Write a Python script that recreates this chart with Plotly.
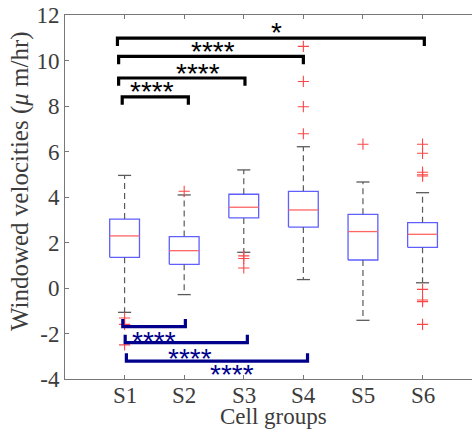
import plotly.graph_objects as go

# ---- data ----
groups = ["S1", "S2", "S3", "S4", "S5", "S6"]
q1 = [1.35, 1.04, 3.08, 2.68, 1.23, 1.79]
median = [2.29, 1.64, 3.55, 3.43, 2.48, 2.36]
q3 = [3.03, 2.26, 4.12, 4.25, 3.24, 2.87]
lower_whisker = [-1.07, -0.29, 1.57, 0.37, -1.42, 0.23]
upper_whisker = [4.95, 4.09, 5.19, 6.21, 4.66, 4.19]
outliers = [
    [-1.32, -1.60, -2.50],
    [4.25],
    [1.41, 1.30, 0.88],
    [6.78, 7.97, 9.08, 10.62],
    [6.32],
    [6.32, 5.92, 5.09, 4.98, 4.92, -0.06, -0.53, -0.60, -1.60],
]
y_tickvals = [-4, -2, 0, 2, 4, 6, 8, 10, 12]
y_ticktext = ["-4", "-2", "0", "2", "4", "6", "8", "10", "12"]

# significance comparisons (group a, group b, label)
upper_pairs = [(1, 2, "****"), (1, 3, "****"), (1, 4, "****"), (1, 6, "*")]
lower_pairs = [(1, 2, "****"), (1, 3, "****"), (1, 4, "****")]

# ---- placement (layout only) ----
upper_levels = [8.40, 9.23, 10.18, 10.98]
upper_left_off = [-0.04, -0.10, -0.10, -0.12]
upper_right_off = [0.07, 0.02, 0.0, 0.03]
upper_text_x = [1.456, 2.237, 2.48, 3.557]
upper_text_y = [8.84, 9.67, 10.6, 11.47]
lower_levels = [-1.70, -2.40, -3.21]
lower_left_off = [-0.03, 0.01, 0.03]
lower_right_off = [0.02, 0.06, 0.07]
lower_text_x = [1.487, 2.09, 2.80]
lower_text_y = [-2.14, -2.87, -3.60]
leg = 0.34
hw = 0.25   # box half width
cw = 0.11   # cap half width

pos = list(range(1, len(groups) + 1))

fig = go.Figure()

# boxes
bx, by = [], []
for p, a, b in zip(pos, q1, q3):
    bx += [p - hw, p + hw, p + hw, p - hw, p - hw, None]
    by += [a, a, b, b, a, None]
fig.add_trace(go.Scatter(x=bx, y=by, mode="lines",
                         line=dict(color="rgb(95,95,255)", width=1.3),
                         hoverinfo="skip", showlegend=False))
# whiskers (dashed)
wx, wy = [], []
for p, a, b, lo, hi in zip(pos, q1, q3, lower_whisker, upper_whisker):
    wx += [p, p, None, p, p, None]
    wy += [b, hi, None, a, lo, None]
fig.add_trace(go.Scatter(x=wx, y=wy, mode="lines",
                         line=dict(color="rgb(90,90,90)", width=1.2, dash="6px,4px"),
                         hoverinfo="skip", showlegend=False))
# caps
cx, cy = [], []
for p, lo, hi in zip(pos, lower_whisker, upper_whisker):
    cx += [p - cw, p + cw, None, p - cw, p + cw, None]
    cy += [hi, hi, None, lo, lo, None]
fig.add_trace(go.Scatter(x=cx, y=cy, mode="lines",
                         line=dict(color="rgb(90,90,90)", width=1.3),
                         hoverinfo="skip", showlegend=False))
# medians
mx, my = [], []
for p, m in zip(pos, median):
    mx += [p - hw, p + hw, None]
    my += [m, m, None]
fig.add_trace(go.Scatter(x=mx, y=my, mode="lines",
                         line=dict(color="rgb(255,100,100)", width=1.3),
                         hoverinfo="skip", showlegend=False))
# outliers
ox, oy = [], []
for p, vals in zip(pos, outliers):
    ox += [p] * len(vals)
    oy += vals
fig.add_trace(go.Scatter(x=ox, y=oy, mode="markers",
                         marker=dict(symbol="cross-thin", size=8,
                                     line=dict(color="rgb(255,70,70)", width=1.1)),
                         hoverinfo="skip", showlegend=False))

# upper (black) brackets
for (a, b, lab), lvl, lo, ro, tx, ty in zip(upper_pairs, upper_levels, upper_left_off,
                                            upper_right_off, upper_text_x, upper_text_y):
    fig.add_trace(go.Scatter(x=[a + lo, a + lo, b + ro, b + ro],
                             y=[lvl - leg, lvl, lvl, lvl - leg], mode="lines",
                             line=dict(color="black", width=3.2),
                             hoverinfo="skip", showlegend=False))
    fig.add_annotation(x=tx, y=ty, text=lab, showarrow=False, xanchor="center",
                       yanchor="middle", yshift=-5, borderpad=0,
                       font=dict(family="Liberation Sans", size=28, color="black"))

# lower (navy) brackets
for (a, b, lab), lvl, lo, ro, tx, ty in zip(lower_pairs, lower_levels, lower_left_off,
                                            lower_right_off, lower_text_x, lower_text_y):
    fig.add_trace(go.Scatter(x=[a + lo, a + lo, b + ro, b + ro],
                             y=[lvl + leg, lvl, lvl, lvl + leg], mode="lines",
                             line=dict(color="rgb(0,0,140)", width=3.2),
                             hoverinfo="skip", showlegend=False))
    fig.add_annotation(x=tx, y=ty, text=lab, showarrow=False, xanchor="center",
                       yanchor="middle", yshift=-5, borderpad=0,
                       font=dict(family="Liberation Sans", size=28, color="rgb(0,0,140)"))

text_color = "rgb(60,60,60)"
axis_font = dict(family="Liberation Serif", size=23, color=text_color)

# x tick labels (placed close to the axis as in the reference)
for p, g in zip(pos, groups):
    fig.add_annotation(xref="x", yref="paper", x=p, y=0, yanchor="top", yshift=-3,
                       text=g, showarrow=False, borderpad=0, font=axis_font)

# x-axis title
fig.add_annotation(xref="paper", yref="paper", x=(273 - 65) / 407, y=0, yanchor="top",
                   yshift=-24, text="Cell groups", showarrow=False, borderpad=0,
                   font=axis_font)

# y-axis title as a rotated annotation
fig.add_annotation(xref="paper", yref="y", x=0, y=4.70, xshift=-45,
                   text="Windowed velocities (<i>μ</i> m/hr)", textangle=-90,
                   showarrow=False, xanchor="center", yanchor="middle",
                   font=dict(family="Liberation Serif", size=25, color=text_color))

fig.update_layout(
    width=472, height=432,
    margin=dict(l=65, r=0, t=15, b=53),
    paper_bgcolor="white", plot_bgcolor="white",
    font=axis_font,
    xaxis=dict(range=[0, 6.83], tickvals=pos, showticklabels=False,
               ticks="inside", ticklen=4, tickcolor="rgb(120,120,120)",
               showline=True, linecolor="rgb(120,120,120)", linewidth=1,
               mirror="ticks", showgrid=False, zeroline=False),
    yaxis=dict(range=[-4, 12], tickvals=y_tickvals, ticktext=y_ticktext,
               ticks="inside", ticklen=4, tickcolor="rgb(120,120,120)",
               showline=True, linecolor="rgb(120,120,120)", linewidth=1,
               showgrid=False, zeroline=False,
               tickfont=axis_font),
)

fig.write_html("out.html")
